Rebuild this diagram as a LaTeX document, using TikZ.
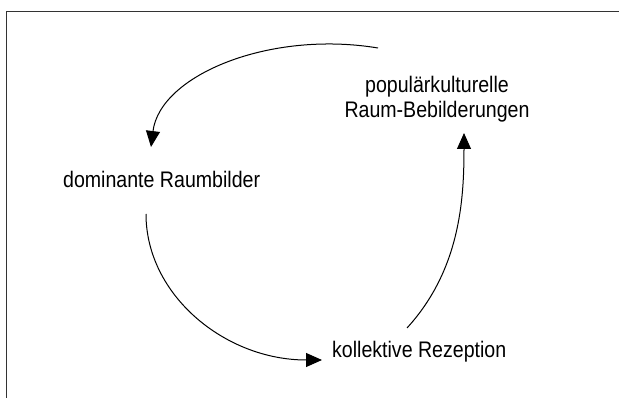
\documentclass[tikz,border=0pt]{standalone}
\usepackage{fontspec}
\setmainfont{Liberation Sans}
\usetikzlibrary{arrows.meta}
\begin{document}
\begin{tikzpicture}[x=1pt,y=-1pt,
  lbl/.style={font=\fontsize{22.5}{25}\selectfont, inner sep=0pt, xscale=0.87, transform shape},
  flow/.style={line width=1pt, -{Triangle[length=16pt,width=14pt]}},
  frame/.style={line width=1.7pt, draw=black!80}]
\useasboundingbox (0,0) rectangle (619,398);
\draw[frame] (6.5,398) -- (6.5,11.5) -- (619,11.5);
\node[lbl, anchor=base west] (dom) at (63,188) {dominante Raumbilder};
\node[lbl, anchor=base, align=center] (pop) at (437,118) {populärkulturelle\\Raum-Bebilderungen};
\node[lbl, anchor=base west] (kol) at (332,357) {kollektive Rezeption};
\coordinate (popout) at (378,48);
\coordinate (domin) at (151,147);
\coordinate (domout) at (146,214);
\coordinate (kolin) at (322,360);
\coordinate (kolout) at (407,328);
\coordinate (popin) at (464,133);
\draw[flow] (popout) .. controls (270,30) and (160,75) .. (domin);
\draw[flow] (domout) .. controls (146,295) and (225,360) .. (kolin);
\draw[flow] (kolout) .. controls (460,270) and (464,200) .. (popin);
\end{tikzpicture}
\end{document}
